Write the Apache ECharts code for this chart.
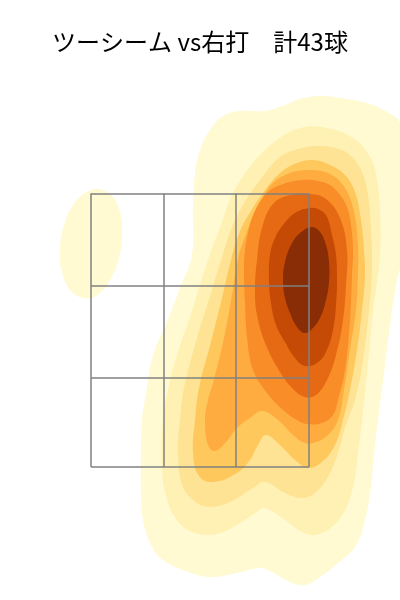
<!DOCTYPE html>
<html>
<head>
<meta charset="utf-8">
<title>ツーシーム vs右打</title>
<script src="https://cdn.jsdelivr.net/npm/echarts@6/dist/echarts.min.js"></script>
<style>
  html, body { margin: 0; padding: 0; background: #fff; }
  #chart { width: 400px; height: 600px; }
</style>
</head>
<body>
<div id="chart"></div>
<script>
// 投球位置 (横: cm, プレート中心=0 / 縦: cm)
// 密度の等高線 (外側 → 内側)
var level1Main = [[24.2,100.8],[28,100.4],[33.4,99.4],[37.4,97.6],[40,95.4],[40.6,88],[40.6,78],[40.2,67.6],[39.4,64],[38.4,58],[37,47],[35.6,36],[34.8,29],[34.2,22.6],[33,16],[31,10.6],[27.6,7.4],[24,4.6],[21,3],[18,3.6],[14.4,5.6],[12,6.4],[7.4,5.4],[2,4.6],[-3.4,6],[-7.4,8],[-9.6,10.6],[-11.4,16],[-11.8,22],[-11.8,29.4],[-11.6,36],[-10.6,42.4],[-9.4,49],[-6.6,55.6],[-4,62.4],[-1.6,69],[-1.4,78.6],[-1,85.4],[0,90],[2,94],[4.6,96.8],[8,97.8],[13,97.8],[17,99],[20,100.2]];
var level1Island = [[-20.4,82.2],[-17.6,80.8],[-16,77.6],[-15.6,73.4],[-16.2,68.4],[-18,64],[-20.8,60.8],[-23.4,60.4],[-26,62],[-27.6,65.6],[-28,70],[-27.2,75],[-25.4,79],[-23,81.4]];
var level2 = [[20,94.4],[25.4,94.4],[30.6,92.4],[34,88.6],[35.4,84],[36,77.4],[36,69],[35.2,62],[34.6,58],[33.6,47],[32.4,36],[31.6,29.4],[30.6,22.6],[29,18],[26.4,14.6],[23,13],[20.4,13.6],[17,16],[13,18.4],[11.4,17.6],[8,15.4],[4.6,13.6],[1.4,13],[-2.4,14],[-4.6,16],[-6.4,19.4],[-7.6,26],[-7.4,36],[-6.2,43],[-4.4,49.6],[-2.2,56],[-0.2,62.4],[1.8,68.6],[4.4,75.6],[6.6,81.4],[10,86.6],[14.6,91.4]];
var level3 = [[23.4,90.8],[27,90.4],[30,89],[32.4,85.6],[33.6,81],[34.2,74],[34.4,66],[33.8,58],[32.6,48],[31,40],[29.2,35],[27.6,29.4],[25.6,24.6],[23,21.4],[20.4,20.4],[17,21.4],[13,23.6],[10.6,22.4],[6,19.6],[2,18.6],[-0.6,19.4],[-3.4,22.6],[-4.4,29.4],[-4,36],[-3.2,42.4],[-0.6,52.4],[2.2,61.4],[4.4,68.6],[6.4,74.6],[8.6,79],[12,84],[16,88.6],[19.6,90.2]];
var level4 = [[22.6,88],[26,87],[29,85],[31,81.6],[32.2,76],[32.8,70],[33,65],[32.4,58],[31.4,50],[30,42],[28.6,36],[27,31],[24.4,27.6],[21.6,26.4],[19,28],[16.4,30.6],[13.2,33],[11.6,31],[10,28],[7.4,25.4],[2.6,23.6],[-0.2,24.8],[-1.4,29.4],[-1,36],[-0.2,42.4],[2.4,52.4],[4.4,60.4],[6.2,68],[8,73.8],[10.2,77.8],[12.6,81.4],[16,85.4],[19.4,87.4]];
var level5 = [[22,86],[26,85.2],[29,82.4],[30.8,77.6],[31.6,71],[31.6,65],[31.2,58],[30,50],[28.8,42],[27.6,36],[25.6,33],[23.2,31.6],[21,31.4],[18.6,33],[15.6,36],[12.4,37.8],[10,36.4],[7.4,34.4],[5.2,31.6],[3,29.8],[1.6,31],[1,36],[1.6,40],[2.6,43.4],[4.8,52.4],[6.4,61],[7.6,68.4],[9,72.6],[10.4,76.2],[12,79.6],[14.6,83.4],[18,85.4]];
var level6 = [[20.6,84],[23.6,83.8],[26,83],[28,81],[29.4,78.6],[30.2,75],[30.6,70],[30.4,65],[30,56],[29,46],[27.6,40],[26.6,37],[24.4,35.4],[21.4,35.2],[19.4,36],[16.6,38],[13.4,41.4],[10.6,46],[9.4,52.6],[9,59.4],[8.8,66],[9,70],[9.6,73.4],[10.8,77.4],[13.4,81.4],[16.6,83.2]];
var level7 = [[22,81.2],[25.2,80.2],[28,76.4],[29.4,70],[29.2,63],[28.6,56],[27.2,49],[25.4,44],[23.2,41],[21,40.6],[18.6,42.2],[16,45.6],[13.2,51],[11.4,57],[11,62],[11.4,68],[12.4,74.4],[14.6,79.2],[18,81]];
var level8 = [[22,78.4],[24,78],[25.4,76.6],[26.4,73],[27.2,69],[27.4,64],[27.2,59],[26.6,54],[25.2,49.6],[23.4,47.4],[21,46.8],[19,48.4],[17,51.6],[15.2,55],[14.2,59.4],[13.8,64],[14,69],[15,72.4],[16.6,75],[19,77.4]];
var level9 = [[22.4,74.6],[24,73.6],[25.2,71],[25.8,67.6],[25.8,63.6],[25.2,60],[24,56.4],[22.2,54],[20.8,53.4],[19.4,54.6],[18,57.4],[17,60.4],[16.6,64],[17,67.6],[18.2,71],[20,73.4]];

// ストライクゾーン (3x3)
var zoneX = [-21.8, -7.2, 7.2, 21.8];
var zoneY = [26.6, 44.5, 62.9, 81.3];

var contours = [
  [level1Main, '#fffad2'],
  [level1Island, '#fffad2'],
  [level2, '#fff1b4'],
  [level3, '#fee395'],
  [level4, '#fec85c'],
  [level5, '#feac40'],
  [level6, '#f98d27'],
  [level7, '#e66913'],
  [level8, '#c54a05'],
  [level9, '#882d05']
];

function contourSeries(ring, color) {
  return {
    type: 'custom',
    silent: true,
    data: ring,
    renderItem: function (params, api) {
      if (params.dataIndex !== 0) return null;
      var pts = ring.map(function (p) { return api.coord(p); });
      return {
        type: 'polygon',
        shape: { points: pts, smooth: 0.4 },
        style: { fill: color, stroke: null }
      };
    }
  };
}

var zoneLines = [];
zoneX.forEach(function (x) {
  zoneLines.push({ coords: [[x, zoneY[0]], [x, zoneY[zoneY.length - 1]]] });
});
zoneY.forEach(function (y) {
  zoneLines.push({ coords: [[zoneX[0], y], [zoneX[zoneX.length - 1], y]] });
});

var series = contours.map(function (c) { return contourSeries(c[0], c[1]); });
series.push({
  type: 'lines',
  coordinateSystem: 'cartesian2d',
  silent: true,
  data: zoneLines,
  lineStyle: { color: '#808080', width: 1.5, opacity: 1 }
});

var chart = echarts.init(document.getElementById('chart'));
chart.setOption({
  animation: false,
  title: {
    text: 'ツーシーム vs右打　計43球',
    left: 'center',
    top: 30,
    padding: 0,
    textStyle: {
      fontFamily: 'Noto Sans CJK JP',
      fontSize: 24,
      fontWeight: 'normal',
      color: '#000'
    }
  },
  grid: { left: 0, right: 0, top: 0, bottom: 0 },
  xAxis: { type: 'value', min: -40, max: 40, show: false },
  yAxis: { type: 'value', min: 0, max: 120, show: false },
  series: series
});
</script>
</body>
</html>
